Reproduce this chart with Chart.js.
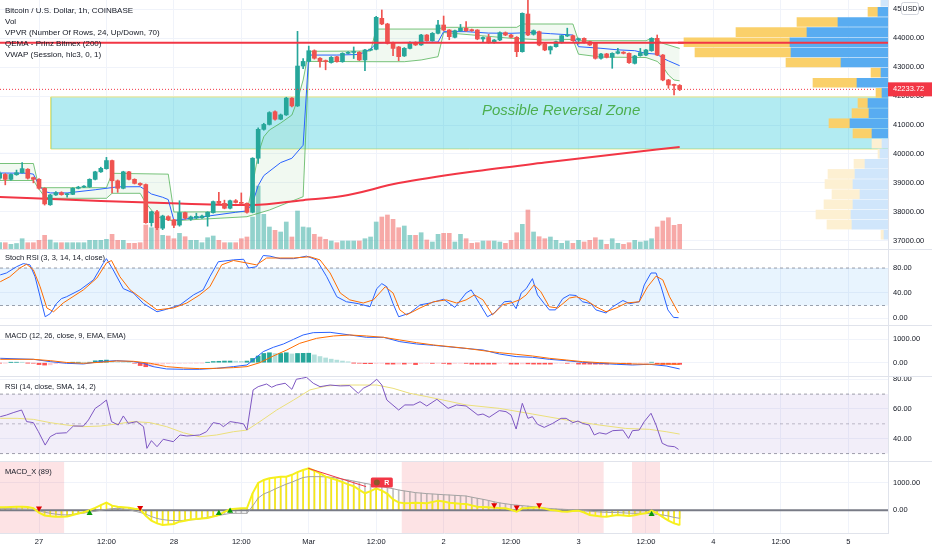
<!DOCTYPE html>
<html>
<head>
<meta charset="utf-8">
<script src="https://cdn.jsdelivr.net/npm/chart.js@4.4.1/dist/chart.umd.min.js"></script>
<style>
  html, body { margin: 0; padding: 0; background: #fff; }
  #wrap { position: relative; width: 932px; height: 550px; overflow: hidden; }
  canvas { position: absolute; left: 0; }
  .sep { position: absolute; left: 0; width: 932px; height: 1px; background: #e0e3eb; }
</style>
</head>
<body>
<div id="wrap">
  <canvas id="main" width="932" height="249" style="top:0"></canvas>
  <canvas id="vpvr" width="210" height="249" style="left:678px; top:0"></canvas>
  <div class="sep" style="top:249px"></div>
  <canvas id="stoch" width="932" height="75" style="top:250px"></canvas>
  <div class="sep" style="top:325px"></div>
  <canvas id="macd" width="932" height="50" style="top:326px"></canvas>
  <div class="sep" style="top:376px"></div>
  <canvas id="rsi" width="932" height="84" style="top:377px"></canvas>
  <div class="sep" style="top:461px"></div>
  <canvas id="mx" width="932" height="88" style="top:462px"></canvas>
</div>
<script>
// hours are counted from 27 Feb 00:00, one candle per hour, first candle at -7
const firstHour = -7;

const open = [
  39160,39290,39120,39280,39350,39470,39180,39120,38810,38240,
  38580,38660,38590,38600,38810,38850,38860,39120,39380,39490,
  39770,39070,38810,39380,39120,38980,38940,37620,38000,37430,
  37830,37720,37540,37970,37740,37780,37790,37830,37970,38360,
  38290,38120,38380,38320,38290,37980,39850,40850,41020,41460,
  41200,41350,41930,41660,43040,43200,43570,43310,43230,43160,
  43360,43190,43480,43510,43515,43250,43590,43620,44690,44495,
  43850,43700,43390,43650,43860,43770,44114,43918,44172,44460,
  44287,44034,44264,44345,44300,44287,43976,44030,43850,43941,
  44195,44114,44034,43538,44840,44138,44230,43803,43596,43711,
  43849,44080,44091,43941,43999,43884,43826,43307,43460,43342,
  43480,43520,43480,43134,43400,43420,43573,43999,43422,42558,
  42385,42370
];
const high = [
  39380,39320,39310,39440,39700,39490,39200,39150,38830,38600,
  38700,38690,38640,38830,38880,38900,39140,39400,39540,39880,
  39790,39100,39400,39400,39140,39000,38960,38020,38050,37880,
  37860,37740,38380,37990,37850,37950,37880,38000,38370,38670,
  38400,38400,38420,38650,38310,39870,40900,41060,41460,41490,
  41380,41960,41950,44240,43300,43730,43600,43330,43250,43370,
  43380,43500,43540,43700,43540,43620,43640,44760,44980,44520,
  43870,43720,43680,43880,43880,44140,44130,44200,44620,44770,
  44300,44280,44480,44576,44320,44300,44050,44140,43960,44220,
  44220,44140,44060,44880,45325,44290,44250,43820,43730,43900,
  44110,44350,44110,44010,44020,43900,43840,43480,43480,43500,
  43650,43540,43500,43410,43650,43620,44020,44114,43440,42580,
  42420,42400
];
const low = [
  39120,38930,39090,39260,39330,39130,39000,38780,38230,38220,
  38560,38570,38500,38590,38790,38830,38840,39100,39360,39470,
  38650,38670,38790,39100,38960,38900,37600,37500,37380,37380,
  37690,37450,37500,37740,37700,37760,37770,37500,37950,38270,
  38100,38100,38300,38270,37950,37960,39670,40820,41000,41170,
  41180,41330,41630,41640,42950,43180,43280,43000,42910,43140,
  43170,43170,43460,43300,43230,42880,43570,43600,44470,43800,
  43400,43227,43370,43630,43750,43750,43900,43900,44150,44260,
  43950,44010,44240,44240,44240,43950,43850,43830,43830,43920,
  44090,44010,43365,43520,44090,44110,43740,43570,43457,43690,
  43830,44060,43900,43800,43830,43750,43280,43280,43320,42962,
  43460,43460,43130,43110,43380,43400,43550,43400,42530,42270,
  42040,42190
];
const close = [
  39330,39120,39290,39350,39490,39160,39120,38810,38270,38580,
  38660,38590,38610,38810,38850,38880,39120,39380,39500,39770,
  39070,38810,39380,39120,38980,38930,37620,38000,37430,37850,
  37720,37530,37970,37780,37820,37840,37850,37980,38350,38290,
  38120,38380,38320,38290,37980,39850,40850,41020,41430,41200,
  41350,41930,41660,43040,43200,43570,43310,43200,43190,43340,
  43190,43480,43515,43520,43250,43596,43620,44725,44495,43826,
  43650,43365,43653,43850,43770,44114,43918,44172,44460,44287,
  44057,44264,44345,44264,44264,43976,44030,43850,43941,44195,
  44114,44034,43538,44864,44114,44264,43768,43596,43711,43884,
  44091,44114,43918,43990,43849,43768,43307,43457,43342,43480,
  43538,43480,43157,43388,43500,43596,43999,43422,42558,42385,
  42370,42233.72
];
const volume = [
  63,63,47,55,103,63,63,87,137,90,
  63,63,63,63,63,63,87,87,87,97,
  147,87,87,57,57,63,240,213,197,137,
  130,103,157,123,87,87,63,113,130,87,
  63,63,63,103,120,320,630,347,220,187,
  170,270,120,380,220,213,147,120,97,80,
  63,80,80,80,80,103,120,270,320,340,
  297,213,230,137,137,163,90,70,147,157,
  157,70,147,103,57,63,80,80,80,70,
  57,87,163,247,390,170,123,103,120,87,
  57,80,57,87,70,87,113,90,47,103,
  57,47,63,87,70,80,103,220,280,313,
  237,247
];

// overlays on price pane: [hour, price]
const vwap = [
  [-7,39340],[-2,39330],[-1,39300],
  [0,38913],[1,38700],[2,38650],[5,38650],[10,38760],[14,38860],[18,38865],[19,38750],[20,38613],[22,38500],[23,38420],
  [24,37700],[29,37820],[35,37980],[37,38030],[38,38300],[39,38900],[40,39250],[43,39700],[45,39850],[47,40300],
  [48,43420],[53,43420],[57,43440],[59,43620],[60,43830],[62,43850],[67,43860],[71,43870],
  [72,44230],[76,44230],[80,44180],[84,44173],[88,44200],[91,44160],[95,44114],
  [96,43710],[100,43654],[103,43600],[106,43571],[108,43480],[110,43450],[111,43308],[112,43220],[114,43052]
];
const bandUpper = [
  [-7,39668],[-1,39668],
  [0,38831],[12,38831],[13,39329],[23,39300],
  [24,37990],[37,38000],[38,38900],[39,40000],[40,40595],[41,40827],[43,41069],[45,41346],[46,41865],[47,42557],
  [48,43550],[59,43560],[60,44320],[71,44320],
  [72,44380],[85,44380],[86,44495],[95,44495],
  [96,43917],[108,43917],[109,44000],[110,43950],[111,43827],[114,43650]
];
const bandLower = [
  [-7,39080],[-1,39080],
  [0,38780],[1,38519],[2,38464],[12,38464],[13,38637],[18,38637],[19,38300],[20,38059],[21,37827],[23,37713],
  [24,37689],[37,37827],[41,38059],[44,38291],[47,38519],
  [48,43200],[60,43190],[65,43190],[68,43250],[71,43363],
  [72,44200],[78,44100],[84,44000],[90,43940],[95,43960],
  [96,43450],[100,43350],[108,43335],[110,43200],[111,43017],[112,42730],[113,42557],[114,42530]
];
const qema = [
  [-7,38510],[11,38370],[25,38280],[38,38230],[47,38400],[54,38540],[64,38990],[78,39410],[90,39700],[103,40000],[114,40240]
];
const resistance = 43848;
const lastPrice = 42233.72;
const zone = { from: 2.1, to: 151.07, top: 41970, bottom: 40170 };
const zoneLabel = { x: 92.9, y: 41485, text: 'Possible Reversal Zone' };

// visible range volume profile, 24 rows (price of row centre, up and down volume)
const vpRows = [45266,44916,44565,44215,43864,43514,43163,42812,42462,42111,41761,41410,
                41060,40709,40359,40008,39658,39307,38957,38606,38256,37905,37555,37204];
const vpUp   = [7,10,50,81,98,97,47,7,31,6,20,19,38,16,6,8,23,33,35,28,35,37,36,4];
const vpDown = [0,10,41,71,106,96,55,10,44,6,10,17,21,19,10,2,11,27,28,28,29,35,25,3];
const vpValueArea = [1, 13];

// Stoch RSI
const stochK = [
  [-6.9,69],[-5.8,72],[-4,82],[-2.8,87],[-1.6,85],[-0.7,66],[0.2,34],[1.1,2],[2,7],[3.1,23],[4,31],[4.9,34],
  [7.3,45],[9.7,61],[11.4,87],[12,95],[13.2,77],[15,47],[16.8,40],[18.6,23],[21,10],[22.7,14],[25.1,21],
  [27.5,37],[29.2,45],[30.4,66],[31.9,90],[34.6,93],[36.4,94],[37.3,80],[38.7,82],[39.9,100],[41.1,99],
  [42.9,95],[45.3,95],[47.6,99],[49.4,93],[51.2,66],[53,34],[54.7,26],[56.8,23],[58.9,18],[60.1,47],[61,55],
  [61.9,50],[63,23],[64,2],[66,8],[67.8,21],[69.6,24],[72,30],[74,17],[76,40],[76.9,45],[78.4,23],[79.8,2],
  [81,8],[82.8,26],[84,27],[84.9,15],[85.8,40],[86.7,47],[87.8,63],[88.7,37],[89.9,23],[90.8,13],[91.9,13],
  [93.2,31],[94.4,37],[95.6,36],[96.7,26],[98.2,23],[99.1,13],[100.9,8],[102.1,18],[103.9,28],[105.1,23],
  [106.8,26],[107.7,53],[108.9,72],[109.8,72],[110.7,50],[111.9,13],[112.9,1],[113.8,0.5]
];
const stochD = [
  [-6.9,58],[-5.2,66],[-3.4,80],[-2.2,86],[-1,77],[0.2,50],[1.4,16],[2.6,10],[4.3,24],[7.9,45],[10.3,64],
  [12,88],[12.9,92],[14.4,66],[16.2,45],[18.6,29],[21,13],[23.9,16],[26.3,24],[28.6,37],[30.4,50],[32.5,85],
  [34.6,92],[37,88],[38.7,85],[40.5,96],[42.9,96],[45.3,96],[48.2,98],[50,93],[51.8,72],[53.6,40],[55.3,29],
  [57.7,24],[59.5,29],[61.6,50],[63,40],[64.2,13],[65.4,5],[67.8,16],[70.2,26],[72.5,29],[74.3,24],[76,29],
  [77.5,37],[79,29],[80.7,5],[82.5,21],[84.3,25],[85.5,29],[86.7,37],[88.1,53],[89.3,42],[90.8,18],[92.3,16],
  [94.4,32],[95.6,34],[97.3,29],[99.1,18],[100.9,10],[102.7,16],[104.5,24],[106.8,26],[108.3,50],[109.8,67],
  [111,61],[112.2,34],[113.8,8]
];
const stochLevels = [80, 20];

// MACD
const macdLine = [
  [-6.9,186],[-1,143],[2,45],[4.9,-25],[7.9,-53],[10.9,45],[13.8,87],[16.8,45],[18.6,-25],[20.3,-166],
  [22.7,-264],[25.7,-278],[28.6,-278],[31.6,-236],[34.6,-166],[37,-96],[38.1,115],[39.9,467],[41.7,650],
  [43.5,790],[45.3,987],[47,1170],[48.8,1268],[51.8,1282],[55.3,1170],[58.3,1071],[61.3,1071],[64.2,889],
  [67.2,790],[70.2,734],[76,600],[79,537],[81.9,368],[84.9,256],[87.8,228],[90.8,143],[93.8,87],[96.7,17],
  [99.7,-25],[102.7,-67],[105.6,-96],[108.6,-67],[111.6,-138],[114,-264]
];
const macdSignal = [
  [-6.9,143],[-1,143],[2,87],[4.9,10],[7.9,-25],[10.9,17],[13.8,73],[16.8,59],[19.8,-25],[22.7,-166],
  [25.7,-222],[28.6,-250],[31.6,-236],[34.6,-208],[37,-166],[39.3,3],[41.7,284],[44.1,537],[46.4,818],
  [49.4,1029],[52.4,1128],[55.3,1170],[58.3,1128],[61.3,1071],[64.2,959],[67.2,846],[70.2,748],[76,607],
  [79,509],[81.9,424],[84.9,354],[87.8,284],[90.8,186],[93.8,115],[96.7,45],[99.7,3],[102.7,-25],
  [105.6,-53],[108.6,-67],[111.6,-53],[114,-67]
];
const macdHist = [
  -15,-10,10,15,10,-10,-20,-80,-100,-90,
  -40,-20,-5,10,15,10,20,80,100,110,
  60,30,20,10,-20,-120,-170,-160,-100,-60,
  -40,-30,-25,-20,-15,-10,-5,10,50,60,
  70,70,65,60,70,180,280,390,420,390,
  390,420,370,390,395,400,330,260,200,150,
  110,70,40,-10,-20,-40,-40,-30,-25,-60,
  -60,-55,-60,-40,-80,-30,-25,-30,-20,-30,
  -60,-30,-25,-30,-60,-60,-60,-60,-60,-25,
  -20,-60,-60,-50,-50,-60,-60,-60,-60,-25,
  -20,-25,-20,-60,-60,-60,-60,-60,-60,-25,
  -20,-60,-60,-20,-15,-10,20,-40,-70,-70,
  -70,-70
];

// RSI
const rsi = [
  [-6.9,54.8],[-5.8,55.9],[-4.6,57.5],[-3.1,59.3],[-2.2,51.5],[-1,50.8],[-0.1,44.7],[1.1,35.7],[2,41.4],
  [3.1,43.6],[4.9,44],[6.1,48.5],[7.9,48.5],[8.8,52.6],[10,60.4],[10.9,62.7],[12,66],[12.9,51.5],[14.1,49.2],
  [15,55.3],[15.9,50.3],[17.4,51.5],[18.6,48.1],[19.2,33.5],[20,38.7],[21,34.6],[22.1,39.6],[23.9,38],
  [25.1,42.5],[26.3,41.8],[28.6,42.5],[29.8,44.7],[31,50.8],[32.2,50],[32.8,48.1],[34,51.5],[35.2,50.8],
  [36.4,50],[37,45.8],[38.1,72.8],[39,75],[40.5,76.8],[41.4,74.6],[42.3,76.1],[43.8,77.3],[45,73.2],[45.8,80],
  [46.7,80.6],[47.6,81.3],[48.8,77.3],[50,75],[51.8,76.1],[53.6,75.5],[55.3,75.7],[56.8,70.5],[57.7,73.9],
  [58.9,76.1],[60.1,80],[61,76.1],[61.9,66],[64,59.3],[65.1,62.7],[66.6,62.7],[67.8,64.9],[69,62],[70.8,66.5],
  [72.8,60.4],[74.3,62.7],[76,62],[78.1,55.9],[79,56.6],[80.1,54.4],[81.9,58.9],[83.1,58.2],[84,55.9],
  [84.9,46.5],[86,63.8],[87,53.7],[87.8,54.8],[88.7,49.7],[89.9,47.6],[91.4,50.3],[92.9,53.7],[93.8,53.7],
  [95,50.8],[95.9,51.9],[96.7,50.3],[97.9,49.2],[98.8,42.5],[99.7,44],[100.9,43.1],[102.1,45.4],[103.9,45.8],
  [104.9,40.2],[105.6,45.4],[106.8,45.8],[107.7,51.5],[108.9,57.1],[109.8,49.2],[110.9,36.9],[111.9,35.1],
  [113.1,34.6],[113.8,32.8]
];
const rsiMa = [
  [-6.9,53.7],[-3.9,53.7],[-1,53],[2,50.8],[4.9,49.2],[7.9,48.1],[10.9,48.5],[13.8,49.9],[16.8,51.5],
  [19.8,50.8],[22.7,48.1],[25.7,44],[28.6,41.3],[31.6,42.5],[34.6,44.7],[37,45.8],[39.3,51.5],[42.3,59.3],
  [45.3,66],[48.2,72.8],[51.2,75.5],[54.1,76.1],[57.1,76.1],[60.1,76.1],[63,73.9],[66,70.5],[69,68.3],
  [71.9,66],[76,62.7],[81.9,60.4],[87.8,56.6],[93.8,52.6],[99.7,49.2],[104.4,46.9],[108.6,46.3],[111.6,44.7],
  [114,43.1]
];
const rsiLevels = [70, 50, 30];

// MACD_X (89), one value per candle
const mxFast = [
  110,115,125,130,133,120,80,-90,-190,-220,
  -233,-233,-230,-170,-120,-70,0,90,190,280,
  170,130,109,90,60,35,-200,-380,-480,-538,
  -520,-501,-416,-380,-340,-320,-300,-280,-230,-172,
  -60,35,60,72,72,620,1000,1110,1171,1200,
  1232,1232,1300,1400,1477,1538,1450,1350,1232,1170,
  1110,1030,950,880,750,622,700,805,720,600,
  400,290,256,265,280,270,256,300,353,320,
  280,260,240,231,180,133,120,109,95,80,
  72,20,-50,72,80,100,109,60,11,-10,
  -40,-50,-30,-13,-80,-172,-200,-230,-233,-200,
  -172,-190,-208,-180,-140,-111,-13,-111,-250,-380,
  -480,-538
];
const mxSlow = [
  72,65,58,50,45,40,35,-20,-70,-111,
  -140,-165,-172,-150,-125,-100,-70,-35,0,35,
  60,72,50,25,-30,-80,-140,-230,-300,-340,
  -365,-375,-379,-365,-350,-335,-300,-260,-220,-190,
  -150,-115,-111,-111,-111,150,450,600,680,780,
  870,960,1030,1120,1200,1232,1232,1232,1225,1210,
  1180,1140,1110,1070,1030,988,950,910,870,830,
  790,744,710,680,646,630,610,598,585,570,
  561,548,536,524,480,440,402,360,310,270,
  240,210,190,170,150,133,110,80,65,50,
  40,30,20,11,-10,-30,-50,-65,-75,-82,
  -86,-95,-105,-111,-111,-111,-120,-150,-172,-210,
  -260,-294
];
const mxSellMarks = [[0,72],[18,97],[81,194],[85,109],[89,194]];
const mxBuyMarks = [[9,-111],[32,-111],[34,-25],[109,-147]];
const mxBearRegions = [[-7.5,4.5],[64.5,100.5],[105.5,110.5]];
const mxDivergence = [[47.9,1538],[58.2,866]];
const mxDivLabel = { x: 61, y: 1016, text: 'R' };

// axes
const timeTicks = [0,12,24,36,48,60,72,84,96,108,120,132,144];
const timeLabels = ['27','12:00','28','12:00','Mar','12:00','2','12:00','3','12:00','4','12:00','5'];
const priceTicks = [37000,38000,39000,40000,41000,42000,43000,44000,45000];

const X_MIN = -6.94, X_MAX = 151.07;
const PRICE_MIN = 36710, PRICE_MAX = 45325;

const UP = '#26a69a', DOWN = '#ef5350';
const GRID = '#f0f3fa', SEP = '#e0e3eb', TXT = '#131722';
const FONT = "'Liberation Sans', Arial, sans-serif";

Chart.defaults.font.family = FONT;
Chart.defaults.font.size = 7.5;
Chart.defaults.color = TXT;
Chart.defaults.elements.point.radius = 0;

const hours = open.map((_, i) => firstHour + i);
const pts = arr => arr.map(p => ({ x: p[0], y: p[1] }));
const perHour = vals => vals.map((v, i) => ({ x: hours[i], y: v }));
const flat = (y) => [{ x: X_MIN, y: y }, { x: X_MAX, y: y }];
const isUp = i => close[i] >= open[i];
const candleColor = ctx => isUp(ctx.dataIndex) ? UP : DOWN;

function xAxis(showLabels) {
  return {
    type: 'linear', min: X_MIN, max: X_MAX, offset: false,
    afterBuildTicks: s => { s.ticks = timeTicks.map(v => ({ value: v })); },
    afterFit: s => { s.height = showLabels ? 17 : 0; s.paddingLeft = 0; s.paddingRight = 0; },
    grid: { color: GRID, drawTicks: false, offset: false },
    border: { display: showLabels, color: SEP },
    ticks: { display: showLabels, padding: 4, maxRotation: 0, autoSkip: false, color: TXT,
             callback: (v, i) => timeLabels[i] }
  };
}
function yAxis(min, max, ticks) {
  return {
    type: 'linear', position: 'right', min: min, max: max,
    afterBuildTicks: s => { s.ticks = ticks.map(v => ({ value: v })); },
    afterFit: s => { s.width = 44; s.paddingTop = 0; s.paddingBottom = 0; },
    grid: { color: GRID, drawTicks: false },
    border: { display: true, color: SEP },
    ticks: { padding: 5, color: TXT, callback: v => v.toFixed(2) }
  };
}
const baseOptions = {
  responsive: false, animation: false, events: [],
  layout: { padding: 0, autoPadding: false },
  plugins: { legend: { display: false }, tooltip: { enabled: false } }
};
function titles(lines, y0, step, size) {
  return {
    id: 'titles',
    afterDraw(chart) {
      const c = chart.ctx;
      c.save();
      c.font = size + 'px ' + FONT;
      c.fillStyle = TXT;
      c.textBaseline = 'middle';
      lines.forEach((t, i) => c.fillText(t, 5, y0 + i * step));
      c.restore();
    }
  };
}

// price pane
new Chart(document.getElementById('main'), {
  type: 'line',
  data: {
    datasets: [
      { data: [{ x: zone.from, y: zone.top }, { x: zone.to, y: zone.top }],
        borderColor: '#e9e57f', borderWidth: 1, backgroundColor: 'rgba(0,188,212,0.3)', fill: '+1', order: 100 },
      { data: [{ x: zone.from, y: zone.bottom }, { x: zone.to, y: zone.bottom }],
        borderColor: '#e9e57f', borderWidth: 1, order: 100 },
      { data: [{ x: zone.from, y: zone.top }, { x: zone.from, y: zone.bottom }],
        borderColor: '#e9e57f', borderWidth: 1, order: 100 },
      { type: 'bar', yAxisID: 'yVol', data: perHour(volume), grouped: false, barThickness: 4, order: 90,
        backgroundColor: ctx => isUp(ctx.dataIndex) ? 'rgba(38,166,154,0.5)' : 'rgba(239,83,80,0.5)' },
      { data: pts(bandUpper), borderColor: 'rgba(76,175,80,0.75)', borderWidth: 1,
        backgroundColor: 'rgba(76,175,80,0.08)', fill: '+1', order: 80 },
      { data: pts(bandLower), borderColor: 'rgba(76,175,80,0.75)', borderWidth: 1, order: 80 },
      { data: pts(qema), borderColor: '#f23645', borderWidth: 2, cubicInterpolationMode: 'monotone', order: 50 },
      { data: pts(vwap), borderColor: '#2962ff', borderWidth: 1, order: 40 },
      { type: 'bar', data: hours.map((h, i) => ({ x: h, y: [low[i], high[i]] })), grouped: false,
        barThickness: 1, backgroundColor: candleColor, order: 20 },
      { type: 'bar', data: hours.map((h, i) => ({ x: h, y: [open[i], close[i]] })), grouped: false,
        barThickness: 4, minBarLength: 1, backgroundColor: candleColor, order: 10 },
      { data: flat(resistance), borderColor: '#f23645', borderWidth: 2, order: 5 },
      { data: flat(lastPrice), borderColor: '#f23645', borderWidth: 1, borderDash: [1, 2], order: 4 }
    ]
  },
  options: Object.assign({}, baseOptions, {
    scales: {
      x: xAxis(false),
      y: yAxis(PRICE_MIN, PRICE_MAX, priceTicks),
      yVol: { type: 'linear', display: false, min: 0, max: 2490 }
    }
  }),
  plugins: [
    titles(['Bitcoin / U.S. Dollar, 1h, COINBASE', 'Vol', 'VPVR (Number Of Rows, 24, Up/Down, 70)',
            'QEMA - Prinz Bitmex (200)', 'VWAP (Session, hlc3, 0, 1)'], 10.5, 11, 8),
    {
      id: 'overlay',
      afterDraw(chart) {
        const c = chart.ctx, xs = chart.scales.x, ys = chart.scales.y;
        c.save();
        c.font = 'italic 15px ' + FONT;
        c.fillStyle = '#4caf50';
        c.textAlign = 'center';
        c.textBaseline = 'middle';
        c.fillText(zoneLabel.text, xs.getPixelForValue(zoneLabel.x), ys.getPixelForValue(zoneLabel.y));

        const py = ys.getPixelForValue(lastPrice);
        c.fillStyle = '#f23645';
        c.fillRect(chart.chartArea.right, py - 7, 44, 14);
        c.fillStyle = '#fff';
        c.font = '7.5px ' + FONT;
        c.textAlign = 'left';
        c.fillText(lastPrice.toFixed(2), chart.chartArea.right + 5, py);

        c.fillStyle = '#fff';
        c.strokeStyle = '#d1d4dc';
        c.beginPath();
        c.roundRect(901.5, 2.5, 17, 12, 2);
        c.fill();
        c.stroke();
        c.fillStyle = TXT;
        c.font = '7px ' + FONT;
        c.textAlign = 'center';
        c.fillText('USD', 910, 9);
        c.restore();
      }
    }
  ]
});

// volume profile, laid over the right side of the price pane
const inValueArea = i => i >= vpValueArea[0] && i <= vpValueArea[1];
new Chart(document.getElementById('vpvr'), {
  type: 'bar',
  data: {
    datasets: [
      { data: vpRows.map((p, i) => ({ x: vpUp[i], y: p })),
        backgroundColor: ctx => inValueArea(ctx.dataIndex) ? '#58acf1' : '#d0e6fb', barThickness: 9 },
      { data: vpRows.map((p, i) => ({ x: vpDown[i], y: p })),
        backgroundColor: ctx => inValueArea(ctx.dataIndex) ? '#fad06a' : '#fdf0d2', barThickness: 9 }
    ]
  },
  options: Object.assign({}, baseOptions, {
    indexAxis: 'y',
    scales: {
      x: { type: 'linear', reverse: true, min: 0, max: 210, stacked: true, display: false },
      y: { type: 'linear', min: PRICE_MIN, max: PRICE_MAX, stacked: true, display: false, offset: false }
    }
  }),
  plugins: [{
    id: 'resistanceOnTop',
    afterDatasetsDraw(chart) {
      const c = chart.ctx, y = chart.scales.y.getPixelForValue(resistance);
      c.save();
      c.strokeStyle = '#f23645';
      c.lineWidth = 2;
      c.beginPath();
      c.moveTo(chart.chartArea.left, y);
      c.lineTo(chart.chartArea.right, y);
      c.stroke();
      c.restore();
    }
  }]
});

// Stoch RSI pane
new Chart(document.getElementById('stoch'), {
  type: 'line',
  data: {
    datasets: [
      { data: flat(stochLevels[0]), borderColor: 'rgba(120,123,134,0.7)', borderWidth: 1, borderDash: [3, 3],
        backgroundColor: 'rgba(33,150,243,0.1)', fill: '+1', order: 100 },
      { data: flat(stochLevels[1]), borderColor: 'rgba(120,123,134,0.7)', borderWidth: 1, borderDash: [3, 3], order: 100 },
      { data: pts(stochK), borderColor: '#2962ff', borderWidth: 1, order: 2 },
      { data: pts(stochD), borderColor: '#ff6d00', borderWidth: 1, order: 1 }
    ]
  },
  options: Object.assign({}, baseOptions, {
    scales: { x: xAxis(false), y: yAxis(-11.2, 108.8, [0, 40, 80]) }
  }),
  plugins: [titles(['Stoch RSI (3, 3, 14, 14, close)'], 8, 0, 7.5)]
});

// MACD pane
new Chart(document.getElementById('macd'), {
  type: 'line',
  data: {
    datasets: [
      { type: 'bar', data: perHour(macdHist), grouped: false, barThickness: 4, order: 10,
        backgroundColor: ctx => {
          const i = ctx.dataIndex, v = macdHist[i], p = i ? macdHist[i - 1] : v;
          if (v >= 0) return v >= p ? '#26a69a' : '#b2dfdb';
          return v <= p ? '#ff5252' : '#ffcdd2';
        } },
      { data: pts(macdLine), borderColor: '#2962ff', borderWidth: 1, order: 2 },
      { data: pts(macdSignal), borderColor: '#ff6d00', borderWidth: 1, order: 1 }
    ]
  },
  options: Object.assign({}, baseOptions, {
    scales: { x: xAxis(false), y: yAxis(-561, 1549, [0, 1000]) }
  }),
  plugins: [titles(['MACD (12, 26, close, 9, EMA, EMA)'], 10, 0, 7.5)]
});

// RSI pane
new Chart(document.getElementById('rsi'), {
  type: 'line',
  data: {
    datasets: [
      { data: flat(rsiLevels[0]), borderColor: 'rgba(120,123,134,0.7)', borderWidth: 1, borderDash: [3, 3],
        backgroundColor: 'rgba(126,87,194,0.1)', fill: '+2', order: 100 },
      { data: flat(rsiLevels[1]), borderColor: 'rgba(120,123,134,0.45)', borderWidth: 1, borderDash: [3, 3], order: 100 },
      { data: flat(rsiLevels[2]), borderColor: 'rgba(120,123,134,0.7)', borderWidth: 1, borderDash: [3, 3], order: 100 },
      { data: pts(rsiMa), borderColor: '#ebdf7a', borderWidth: 1, order: 2 },
      { data: pts(rsi), borderColor: '#7e57c2', borderWidth: 1, order: 1 }
    ]
  },
  options: Object.assign({}, baseOptions, {
    scales: { x: xAxis(false), y: yAxis(25, 81.5, [40, 60, 80]) }
  }),
  plugins: [titles(['RSI (14, close, SMA, 14, 2)'], 9.7, 0, 7.5)]
});

// MACD_X pane with the time axis
const MX_MIN = -832, MX_MAX = 1769;
new Chart(document.getElementById('mx'), {
  type: 'line',
  data: {
    datasets: mxBearRegions.map(r => ({
      data: [{ x: r[0], y: MX_MAX }, { x: r[1], y: MX_MAX }],
      borderWidth: 0, backgroundColor: 'rgba(242,54,69,0.14)', fill: 'start', order: 100
    })).concat([
      { type: 'bar', data: perHour(mxSlow), grouped: false, barThickness: 1,
        backgroundColor: 'rgba(140,140,140,0.55)', order: 60 },
      { type: 'bar', data: perHour(mxFast), grouped: false, barThickness: 1,
        backgroundColor: 'rgba(255,238,0,0.9)', order: 50 },
      { data: flat(0), borderColor: '#787b86', borderWidth: 2, order: 40 },
      { data: perHour(mxSlow), borderColor: '#a3a3a3', borderWidth: 1, order: 30 },
      { data: perHour(mxFast), borderColor: '#f5ef1e', borderWidth: 2, order: 20 },
      { data: pts(mxDivergence), borderColor: '#f23645', borderWidth: 1, order: 15 },
      { data: pts(mxSellMarks), showLine: false, pointStyle: 'triangle', rotation: 180, pointRadius: 3.5,
        pointBackgroundColor: '#e00000', pointBorderWidth: 0, order: 5 },
      { data: pts(mxBuyMarks), showLine: false, pointStyle: 'triangle', pointRadius: 3.5,
        pointBackgroundColor: '#0a9a0a', pointBorderWidth: 0, order: 5 }
    ])
  },
  options: Object.assign({}, baseOptions, {
    scales: { x: xAxis(true), y: yAxis(MX_MIN, MX_MAX, [0, 1000]) }
  }),
  plugins: [
    titles(['MACD_X (89)'], 10, 0, 7.5),
    {
      id: 'divLabel',
      afterDraw(chart) {
        const c = chart.ctx;
        const x = chart.scales.x.getPixelForValue(mxDivLabel.x);
        const y = chart.scales.y.getPixelForValue(mxDivLabel.y);
        c.save();
        c.fillStyle = '#f23645';
        c.beginPath();
        c.roundRect(x - 11, y - 5, 22, 10, 1.5);
        c.fill();
        c.fillStyle = '#8d5a2b';
        c.beginPath();
        c.arc(x - 5, y, 3, 0, Math.PI * 2);
        c.fill();
        c.fillStyle = '#fff';
        c.font = 'bold 7px ' + FONT;
        c.textAlign = 'center';
        c.textBaseline = 'middle';
        c.fillText(mxDivLabel.text, x + 5, y + 0.5);
        c.restore();
      }
    }
  ]
});
</script>
</body>
</html>
